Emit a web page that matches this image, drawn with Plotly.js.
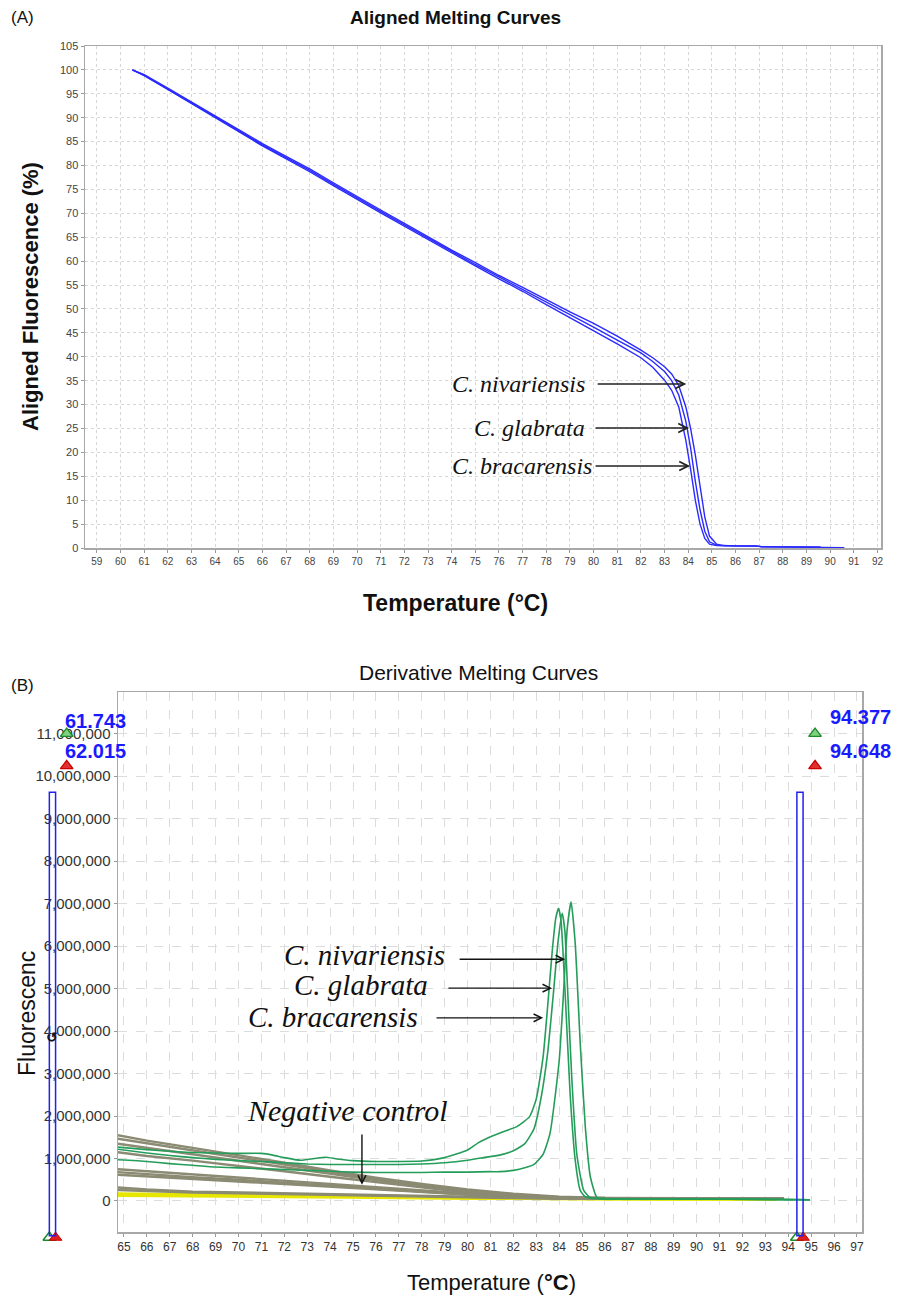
<!DOCTYPE html>
<html><head><meta charset="utf-8">
<script src="https://cdn.plot.ly/plotly-3.0.1.min.js"></script>
<style>html,body{margin:0;padding:0;background:#fff}</style>
</head><body>
<div id="chart" style="width:906px;height:1300px"></div>
<script>
// ---------- Panel A: aligned melting curves ----------
const tempA = [60.5, 61, 62, 63, 64, 65, 66, 67, 68, 69, 70, 71, 72, 73, 74, 75, 76, 77, 78, 79, 80, 81, 82, 82.5, 83, 83.3, 83.6, 83.9, 84.1, 84.3, 84.5, 84.7, 84.9, 85.2, 85.5, 86.0, 86.9, 87.1, 89.6, 89.7, 90.6];
const alignedNivariensis = [100, 99.0, 96.2, 93.3, 90.5, 87.5, 84.6, 81.9, 79.3, 76.4, 73.5, 70.7, 67.9, 65.1, 62.3, 59.7, 57.0, 54.5, 51.9, 49.4, 47.0, 44.3, 41.4, 39.8, 37.9, 36.4, 34.0, 29.5, 25.0, 19.5, 13.0, 6.5, 2.5, 0.8, 0.5, 0.5, 0.45, 0.25, 0.2, 0.05, 0.05];
const alignedGlabrata = [100, 98.9, 96.0, 93.1, 90.3, 87.3, 84.3, 81.7, 79.0, 76.1, 73.2, 70.4, 67.6, 64.8, 62.0, 59.3, 56.7, 54.1, 51.4, 48.8, 46.2, 43.5, 40.8, 39.0, 36.9, 35.0, 32.0, 26.5, 21.0, 14.0, 8.0, 3.5, 1.3, 0.6, 0.5, 0.45, 0.4, 0.25, 0.2, null, null];
const alignedBracarensis = [100, 98.8, 95.9, 93.0, 90.1, 87.1, 84.1, 81.4, 78.7, 75.8, 72.9, 70.1, 67.3, 64.5, 61.7, 59.0, 56.3, 53.7, 50.9, 48.2, 45.4, 42.7, 39.8, 37.8, 35.1, 33.0, 29.5, 22.5, 16.5, 10.0, 5.0, 2.0, 0.8, 0.5, 0.45, 0.45, 0.4, null, null, null, null];

// ---------- Panel B: derivative melting curves (values in millions) ----------
const tempG1 = [64.7, 66, 67, 68, 69, 70, 71, 71.5, 72, 72.7, 73.3, 73.8, 74.3, 75, 76, 77, 78, 79, 80, 80.5, 81, 81.5, 82.15, 82.7, 83.0, 83.3, 83.5, 83.7, 83.85, 83.97, 84.08, 84.26, 84.48, 84.7, 84.92, 85.14, 85.5, 90, 94.95];
const derivG1 = [1.27, 1.21, 1.17, 1.14, 1.13, 1.12, 1.12, 1.08, 1.02, 0.96, 1.0, 1.03, 0.99, 0.95, 0.93, 0.93, 0.94, 1.02, 1.2, 1.38, 1.51, 1.62, 1.75, 1.98, 2.4, 3.4, 4.6, 5.9, 6.65, 6.89, 6.6, 4.9, 2.5, 0.96, 0.25, 0.1, 0.06, 0.05, 0.03];
const tempG2 = [64.7, 66, 67, 68, 69, 70, 71, 72, 73, 74, 75, 76, 77, 78, 79, 80, 80.7, 81.4, 82, 82.5, 82.9, 83.2, 83.5, 83.75, 83.95, 84.13, 84.25, 84.34, 84.55, 84.77, 85.07, 85.36, 85.7, 90, 94.95];
const derivG2 = [1.22, 1.13, 1.07, 1.02, 0.98, 0.95, 0.93, 0.9, 0.87, 0.86, 0.86, 0.86, 0.86, 0.87, 0.9, 0.96, 1.02, 1.08, 1.18, 1.35, 1.7, 2.4, 3.5, 4.9, 6.1, 6.77, 6.35, 5.3, 2.9, 1.1, 0.25, 0.08, 0.06, 0.05, 0.03];
const tempG3 = [64.7, 66, 67, 68, 69, 70, 71, 72, 73, 74, 75, 76, 77, 78, 79, 80, 81, 81.4, 82, 82.5, 82.9, 83.3, 83.6, 84.0, 84.2, 84.35, 84.52, 84.7, 84.92, 85.14, 85.36, 85.65, 86, 90, 94.95];
const derivG3 = [0.97, 0.93, 0.88, 0.84, 0.8, 0.78, 0.76, 0.74, 0.72, 0.7, 0.68, 0.67, 0.67, 0.67, 0.68, 0.68, 0.69, 0.69, 0.72, 0.78, 0.86, 1.1, 1.59, 3.3, 5.0, 6.4, 7.04, 6.06, 3.7, 1.75, 0.57, 0.08, 0.06, 0.05, 0.03];

const tempGray = [64.7, 66, 68, 70, 72, 74, 76, 78, 80, 82, 84, 86, 90, 93.8];
const grayCurves = [
  [1.55, 1.42, 1.25, 1.08, 0.9, 0.72, 0.55, 0.4, 0.27, 0.17, 0.1, 0.07, 0.06, 0.06],
  [1.47, 1.36, 1.2, 1.03, 0.86, 0.68, 0.52, 0.37, 0.25, 0.15, 0.09, 0.07, 0.06, 0.06],
  [1.35, 1.25, 1.1, 0.95, 0.8, 0.64, 0.48, 0.34, 0.22, 0.13, 0.08, 0.06, 0.06, 0.05],
  [1.15, 1.06, 0.95, 0.83, 0.7, 0.57, 0.44, 0.32, 0.2, 0.12, 0.08, 0.06, 0.05, 0.05],
  [0.75, 0.7, 0.62, 0.55, 0.48, 0.4, 0.32, 0.24, 0.16, 0.1, 0.07, 0.06, 0.05, 0.05],
  [0.68, 0.63, 0.56, 0.5, 0.43, 0.36, 0.29, 0.22, 0.15, 0.1, 0.07, 0.06, 0.05, 0.05],
  [0.62, 0.58, 0.52, 0.46, 0.4, 0.34, 0.27, 0.2, 0.14, 0.09, 0.06, 0.05, 0.05, 0.05],
  [0.32, 0.27, 0.22, 0.2, 0.18, 0.16, 0.13, 0.11, 0.09, 0.07, 0.06, 0.05, 0.05, 0.05],
  [0.26, 0.23, 0.2, 0.18, 0.16, 0.14, 0.12, 0.1, 0.08, 0.07, 0.06, 0.05, 0.05, 0.05]
];
const tempYellow = [64.7, 68, 72, 76, 80, 84, 88, 93.5];
const yellowCurves = [
  [0.17, 0.16, 0.13, 0.1, 0.07, 0.05, 0.04, 0.04],
  [0.13, 0.12, 0.1, 0.08, 0.06, 0.05, 0.04, 0.04]
];

// melt-region cursors (temperature bounds)
const cursorLeft = [61.743, 62.015];
const cursorRight = [94.377, 94.648];
const cursorLabels = ['61.743', '62.015', '94.377', '94.648'];

const M = 1e6;
const toM = a => a.map(v => v * M);

// ---------- geometry ----------
const W = 906, H = 1300;
const px = v => v / W, py = v => 1 - v / H;
const xA = {domain: [px(85), px(881)], range: [58.5, 92.15]};
const yA = {domain: [py(548), py(46)], range: [0, 105]};
const xB = {domain: [px(118), px(862)], range: [64.74, 97.22]};
const yB = {domain: [py(1232), py(692)], range: [-0.73 * M, 11.98 * M]};
// overlay axes spanning the lower half, sharing panel B's scale
function extend(ax, lo, hi) {
  const k = (ax.range[1] - ax.range[0]) / (ax.domain[1] - ax.domain[0]);
  return [ax.range[0] - (ax.domain[0] - lo) * k, ax.range[1] + (hi - ax.domain[1]) * k];
}
const x3range = extend(xB, 0, 1);
const y3range = extend(yB, 0, 0.5);

const blue = '#2a2aff', green = '#259d5a', gray = '#8b8a73', yellow = '#e6e600';
const traces = [];
[alignedBracarensis, alignedGlabrata, alignedNivariensis].forEach(arr => {
  traces.push({x: tempA, y: arr, type: 'scatter', mode: 'lines', xaxis: 'x', yaxis: 'y',
    line: {color: blue, width: 1.4}, connectgaps: false, hoverinfo: 'skip'});
});
yellowCurves.forEach(arr => traces.push({x: tempYellow, y: toM(arr), type: 'scatter', mode: 'lines',
  xaxis: 'x2', yaxis: 'y2', line: {color: yellow, width: 3}, hoverinfo: 'skip'}));
grayCurves.forEach(arr => traces.push({x: tempGray, y: toM(arr), type: 'scatter', mode: 'lines',
  xaxis: 'x2', yaxis: 'y2', line: {color: gray, width: 2.4}, hoverinfo: 'skip'}));
[[tempG1, derivG1], [tempG2, derivG2], [tempG3, derivG3]].forEach(([t, d]) => traces.push({
  x: t, y: toM(d), type: 'scatter', mode: 'lines', xaxis: 'x2', yaxis: 'y2',
  line: {color: green, width: 1.6, shape: 'spline', smoothing: 0.5}, hoverinfo: 'skip'}));

// cursor handles (triangles)
traces.push({x: [cursorLeft[0], cursorRight[0]], y: [-0.86 * M, -0.86 * M], type: 'scatter', mode: 'markers',
  xaxis: 'x3', yaxis: 'y3', cliponaxis: false,
  marker: {symbol: 'triangle-up-open', size: 11, color: '#1a8a2a', line: {width: 1.5}}, hoverinfo: 'skip'});
traces.push({x: [cursorLeft[1], cursorRight[1]], y: [-0.86 * M, -0.86 * M], type: 'scatter', mode: 'markers',
  xaxis: 'x3', yaxis: 'y3', cliponaxis: false,
  marker: {symbol: 'triangle-up', size: 11, color: '#e02020', line: {width: 1, color: '#c00'}}, hoverinfo: 'skip'});
const handleX = [62.5, 95.17], handleYGreen = [11.0, 11.0], handleYRed = [10.24, 10.24];
traces.push({x: handleX, y: toM(handleYGreen), type: 'scatter', mode: 'markers', xaxis: 'x3', yaxis: 'y3', cliponaxis: false,
  marker: {symbol: 'triangle-up', size: 11, color: '#7fd07f', line: {width: 1.3, color: '#1a8a2a'}}, hoverinfo: 'skip'});
traces.push({x: handleX, y: toM(handleYRed), type: 'scatter', mode: 'markers', xaxis: 'x3', yaxis: 'y3', cliponaxis: false,
  marker: {symbol: 'triangle-up', size: 11, color: '#e03030', line: {width: 1.3, color: '#c00'}}, hoverinfo: 'skip'});

const rectTop = 9.62 * M, rectBottom = -0.82 * M;
const shapes = [cursorLeft, cursorRight].map(c => ({type: 'rect', xref: 'x3', yref: 'y3',
  x0: c[0], x1: c[1], y0: rectBottom, y1: rectTop, line: {color: '#2222ee', width: 1.5}, fillcolor: 'rgba(0,0,0,0)', layer: 'above'}));

const serif = '"Liberation Serif", "Times New Roman", serif';
const sans = 'Arial, "Liberation Sans", sans-serif';
const annotations = [];
function txt(text, x, y, size, opts) {
  annotations.push(Object.assign({text, x, y, xref: 'paper', yref: 'paper', showarrow: false,
    font: {family: sans, size, color: '#111'}, xanchor: 'center', yanchor: 'middle'}, opts || {}));
}
txt('(A)', px(9), py(18), 17, {xanchor: 'left'});
txt('<b>Aligned Melting Curves</b>', px(455), py(18), 19);
txt('<b>Aligned Fluorescence (%)</b>', px(30), py(297), 22, {textangle: -90});
txt('<b>Temperature (°C)</b>', px(455), py(603), 23);
txt('(B)', px(9), py(685), 17, {xanchor: 'left'});
txt('Derivative Melting Curves', px(478), py(672), 21);
txt('Fluorescenc', px(27), py(1014), 23, {textangle: -90});
txt('Temperature (<b>°C</b>)', px(491), py(1282), 22);

// species labels panel A
const labelsA = [['C. nivariensis', 79.73, 34.3, 80.11, 83.92], ['C. glabrata', 79.73, 25.1, 80.02, 84.04], ['C. bracarensis', 80.02, 17.15, 80.02, 84.08]];
labelsA.forEach(([t, x, y, a0, a1]) => {
  annotations.push({text: '<i>' + t + '</i>', x, y, xref: 'x', yref: 'y', showarrow: false, xanchor: 'right', yanchor: 'middle',
    font: {family: serif, size: 24, color: '#111'}});
  annotations.push({text: '', x: a1, y, ax: a0, ay: y, xref: 'x', yref: 'y', axref: 'x', ayref: 'y', showarrow: true,
    arrowhead: 5, arrowsize: 1.1, arrowwidth: 1.6, arrowcolor: '#222', standoff: 0, startstandoff: 0});
});
// species labels panel B
const labelsB = [['C. nivariensis', 79.1, 5.79, 79.59, 84.26, 5.69], ['C. glabrata', 78.36, 5.08, 79.1, 83.69, 5.01], ['C. bracarensis', 77.93, 4.33, 78.58, 83.3, 4.31]];
labelsB.forEach(([t, x, y, a0, a1, ya]) => {
  annotations.push({text: '<i>' + t + '</i>', x, y: y * M, xref: 'x2', yref: 'y2', showarrow: false, xanchor: 'right', yanchor: 'middle',
    font: {family: serif, size: 29, color: '#111'}});
  annotations.push({text: '', x: a1, y: ya * M, ax: a0, ay: ya * M, xref: 'x2', yref: 'y2', axref: 'x2', ayref: 'y2', showarrow: true,
    arrowhead: 5, arrowsize: 1.1, arrowwidth: 1.4, arrowcolor: '#111', standoff: 0, startstandoff: 0});
});
annotations.push({text: '<i>Negative control</i>', x: 74.74, y: 2.14 * M, xref: 'x2', yref: 'y2', showarrow: false,
  font: {family: serif, size: 30, color: '#111'}, xanchor: 'center', yanchor: 'middle'});
annotations.push({text: '', x: 75.39, y: 0.38 * M, ax: 75.39, ay: 1.6 * M, xref: 'x2', yref: 'y2', axref: 'x2', ayref: 'y2',
  showarrow: true, arrowhead: 5, arrowsize: 1.1, arrowwidth: 1.4, arrowcolor: '#111', standoff: 0});
// cursor value labels
const labelPos = [[62.34, 11.3], [62.34, 10.58], [95.74, 11.38], [95.74, 10.6]];
labelPos.forEach(([x, y], i) => annotations.push({text: '<b>' + cursorLabels[i] + '</b>', x, y: y * M, xref: 'x3', yref: 'y3',
  showarrow: false, xanchor: 'left', yanchor: 'middle',
  font: {family: sans, size: 20, color: '#1a1aff'}}));
annotations.push({text: '<b>↺</b>', x: 61.88, y: 3.85 * M, xref: 'x3', yref: 'y3', showarrow: false,
  font: {family: 'DejaVu Sans', size: 14, color: '#111'}});

const axisCommon = {showline: true, mirror: true, linecolor: '#a8a8a8', linewidth: 1.5, zeroline: false,
  ticks: 'outside', ticklen: 3, tickcolor: '#999', showgrid: true, fixedrange: true};
const layout = {
  width: W, height: H, margin: {l: 0, r: 0, t: 0, b: 0}, paper_bgcolor: '#fff', plot_bgcolor: 'rgba(0,0,0,0)',
  showlegend: false,
  xaxis: Object.assign({}, axisCommon, xA, {anchor: 'y', dtick: 1, tick0: 59, gridcolor: '#d6d6d6', griddash: 'dot',
    tickfont: {family: sans, size: 10, color: '#444'}}),
  yaxis: Object.assign({}, axisCommon, yA, {anchor: 'x', dtick: 5, tick0: 0, gridcolor: '#d6d6d6', griddash: 'dot',
    tickfont: {family: sans, size: 11, color: '#444'}}),
  xaxis2: Object.assign({}, axisCommon, xB, {anchor: 'y2', dtick: 1, tick0: 65, gridcolor: '#dcdcdc', griddash: 'dash',
    tickfont: {family: sans, size: 12, color: '#333'}}),
  yaxis2: Object.assign({}, axisCommon, yB, {anchor: 'x2', dtick: M, tick0: 0, tickformat: ',d', gridcolor: '#dcdcdc', griddash: 'dash',
    tickfont: {family: sans, size: 15, color: '#333'}}),
  xaxis3: {domain: [0, 1], range: x3range, anchor: 'y3', visible: false, fixedrange: true},
  yaxis3: {domain: [0, 0.5], range: y3range, anchor: 'x3', visible: false, fixedrange: true},
  shapes, annotations
};
Plotly.newPlot('chart', traces, layout, {staticPlot: true, displayModeBar: false});
</script>
</body></html>
